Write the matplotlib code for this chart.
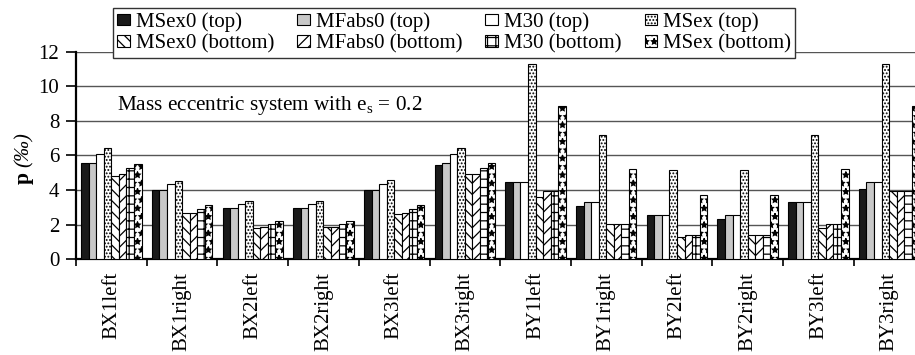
import matplotlib
matplotlib.use("Agg")
import matplotlib.pyplot as plt
import numpy as np

# values, p in per mille
locations = ['BX1left', 'BX1right', 'BX2left', 'BX2right', 'BX3left', 'BX3right',
             'BY1left', 'BY1right', 'BY2left', 'BY2right', 'BY3left', 'BY3right']

msex0_top = [5.55, 4.00, 2.98, 2.95, 4.00, 5.45, 4.47, 3.08, 2.54, 2.35, 3.33, 4.04]
mfabs0_top = [5.55, 4.03, 2.98, 2.98, 4.00, 5.55, 4.47, 3.33, 2.54, 2.54, 3.33, 4.45]
m30_top = [6.07, 4.33, 3.20, 3.20, 4.33, 6.07, 4.47, 3.33, 2.54, 2.54, 3.33, 4.45]
msex_top = [6.42, 4.55, 3.37, 3.37, 4.57, 6.42, 11.29, 7.17, 5.14, 5.14, 7.17, 11.29]
msex0_bot = [4.82, 2.70, 1.81, 1.87, 2.60, 4.91, 3.62, 2.04, 1.27, 1.39, 1.79, 3.97]
mfabs0_bot = [4.93, 2.70, 1.87, 1.87, 2.70, 4.91, 3.97, 2.04, 1.39, 1.39, 2.04, 3.97]
m30_bot = [5.30, 2.93, 2.04, 2.06, 2.93, 5.30, 3.97, 2.04, 1.39, 1.39, 2.04, 3.97]
msex_bot = [5.53, 3.12, 2.21, 2.20, 3.13, 5.55, 8.88, 5.20, 3.74, 3.74, 5.20, 8.88]

series_names = ['MSex0 (top)', 'MFabs0 (top)', 'M30 (top)', 'MSex (top)',
                'MSex0 (bottom)', 'MFabs0 (bottom)', 'M30 (bottom)', 'MSex (bottom)']
series_values = [msex0_top, mfabs0_top, m30_top, msex_top,
                 msex0_bot, mfabs0_bot, m30_bot, msex_bot]

# fill colour and hatch for each series
styles = [('#1a1a1a', None), ('#c8c8c8', None), ('white', None), ('white', '.....'),
          ('white', '\\\\\\'), ('white', '///'), ('white', '++'), ('white', '**')]

plt.rcParams['font.family'] = ['Liberation Serif', 'DejaVu Serif']
plt.rcParams['mathtext.fontset'] = 'custom'
plt.rcParams['mathtext.rm'] = 'Liberation Serif'
plt.rcParams['mathtext.it'] = 'Liberation Serif:italic'
plt.rcParams['hatch.linewidth'] = 0.9

fig = plt.figure(figsize=(9.15, 3.55), dpi=100)
ax = fig.add_axes([0.0831, 0.2696, 0.9272, 0.5848])

x = np.arange(len(locations))
w = 0.1068
handles = []
for i, (name, vals) in enumerate(zip(series_names, series_values)):
    color, hatch = styles[i]
    b = ax.bar(x + (i - 3.5) * w, vals, w, color=color, hatch=hatch,
               edgecolor='black', linewidth=0.8, label=name, zorder=3)
    handles.append(b)

ax.set_xlim(-0.5, 11.5)
ax.set_ylim(0, 12)
ax.set_yticks(np.arange(0, 13, 2))
ax.yaxis.grid(True, color='#555555', linewidth=1.0)
ax.set_axisbelow(True)

ax.set_xticks(x)
ax.set_xticklabels(locations, rotation=90, fontsize=15)
ax.set_xticks(np.arange(-0.5, 12, 1), minor=True)
ax.tick_params(axis='x', which='major', length=0, pad=9)
ax.tick_params(axis='x', which='minor', length=5, width=1.2, direction='out')
ax.tick_params(axis='y', length=7, width=1.2, direction='out', labelsize=15, pad=5)

for s in ['top', 'right']:
    ax.spines[s].set_visible(False)
ax.spines['left'].set_linewidth(1.6)
ax.spines['bottom'].set_linewidth(1.6)

ax.text(0.08, 8.9, r'Mass eccentric system with e$_\mathrm{s}$ = 0.2',
        fontsize=15.3, va='center', ha='left')

fig.text(24 / 915, 1 - 178 / 355, 'p', rotation=90, fontsize=15.5,
         fontweight='bold', ha='center', va='center')
fig.text(24 / 915, 1 - 150 / 355, '(‰)', rotation=90, fontsize=15,
         fontstyle='italic', ha='center', va='center')

# legend fills column-wise, so interleave top / bottom
order = [0, 4, 1, 5, 2, 6, 3, 7]
leg = fig.legend([handles[k] for k in order], [series_names[k] for k in order],
                 ncol=4, loc='upper left', bbox_to_anchor=(113 / 915, 1 - 8 / 355),
                 fontsize=15, frameon=True, fancybox=False, edgecolor='#333333',
                 framealpha=1, handlelength=0.6, handleheight=0.5,
                 handletextpad=0.3, columnspacing=1.1, labelspacing=0.12,
                 borderpad=0.2, borderaxespad=0)
leg.get_frame().set_linewidth(1.0)

fig.savefig('out.png', dpi=100)
